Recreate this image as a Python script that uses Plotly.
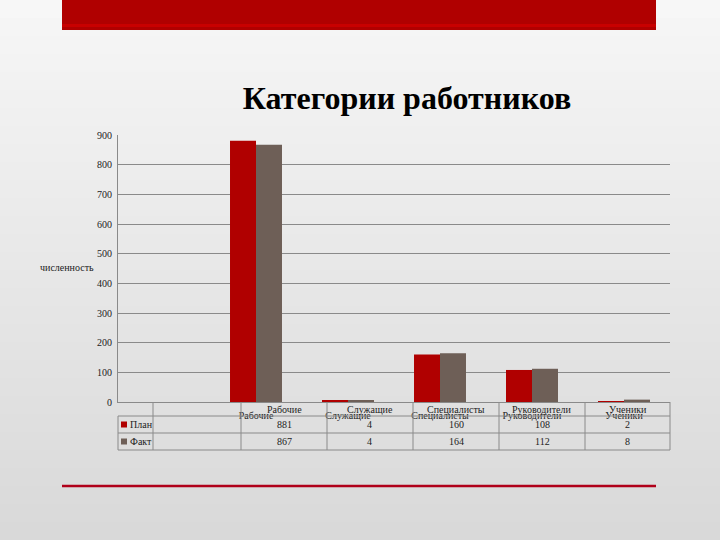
import plotly.graph_objects as go

# данные диаграммы
categories = ["Рабочие", "Служащие", "Специалисты", "Руководители", "Ученики"]
plan = [881, 4, 160, 108, 2]
fact = [867, 4, 164, 112, 8]
series_names = ["План", "Факт"]
y_ticks = [0, 100, 200, 300, 400, 500, 600, 700, 800, 900]

W, H = 720, 540
RED = "#b00000"
GREY = "#6e5f57"
LINE = "#8a8a8a"
FONT = "Liberation Serif"


def px(x):
    return x / W


def py(y):
    return 1 - y / H


fig = go.Figure()
fig.add_trace(go.Bar(x=categories, y=plan, name=series_names[0], marker_color=RED, marker_line_width=0))
fig.add_trace(go.Bar(x=categories, y=fact, name=series_names[1], marker_color=GREY, marker_line_width=0))

shapes = []
annotations = []

# фон: мягкий вертикальный градиент полосами
n_strips = 30
for i in range(n_strips):
    t = i / (n_strips - 1)
    c = int(247 - 30 * t)
    shapes.append(dict(type="rect", xref="paper", yref="paper", layer="below",
                       x0=0, x1=1, y0=1 - (i + 1) / n_strips, y1=1 - i / n_strips,
                       fillcolor=f"rgb({c},{c},{c})", line_width=0))

# красная полоса сверху и линия снизу
shapes.append(dict(type="rect", xref="paper", yref="paper", x0=px(62), x1=px(656),
                   y0=py(30), y1=1, fillcolor=RED, line_width=0))
shapes.append(dict(type="rect", xref="paper", yref="paper", x0=px(62), x1=px(656),
                   y0=py(27), y1=py(24), fillcolor="#c80000", line_width=0))
shapes.append(dict(type="line", xref="paper", yref="paper", x0=px(62), x1=px(656),
                   y0=py(486), y1=py(486), line=dict(color="#b0001a", width=2.5)))

# таблица данных под графиком
col_edges = [118, 153, 241, 327, 413, 499, 585, 670]
row_edges = [402, 416, 433, 450]
for i, x in enumerate(col_edges):
    top = row_edges[1] if i == 0 else row_edges[0]
    shapes.append(dict(type="line", xref="paper", yref="paper", x0=px(x), x1=px(x),
                       y0=py(top), y1=py(row_edges[-1]), line=dict(color=LINE, width=1)))
for y in row_edges[1:]:
    shapes.append(dict(type="line", xref="paper", yref="paper", x0=px(col_edges[0]), x1=px(col_edges[-1]),
                       y0=py(y), y1=py(y), line=dict(color=LINE, width=1)))


def note(x, y, text, size=10, xanchor="center"):
    return dict(x=px(x), y=py(y), xref="paper", yref="paper", text=text, showarrow=False,
                xanchor=xanchor, yanchor="middle", font=dict(family=FONT, size=size, color="#222"))


for j, cat in enumerate(categories):
    cx = (col_edges[j + 2] + col_edges[j + 3]) / 2
    annotations.append(note(cx, 409, cat))
    for r, vals in enumerate([plan, fact]):
        cy = (row_edges[r + 1] + row_edges[r + 2]) / 2
        annotations.append(note(cx, cy, str(vals[j])))

for r, (name, color) in enumerate(zip(series_names, [RED, GREY])):
    cy = (row_edges[r + 1] + row_edges[r + 2]) / 2
    shapes.append(dict(type="rect", xref="paper", yref="paper", x0=px(121), x1=px(127),
                       y0=py(cy + 3), y1=py(cy - 3), fillcolor=color, line_width=0))
    annotations.append(note(128, cy, name, xanchor="left"))

# подпись оси Y (горизонтальная)
annotations.append(note(96, 268, "численность", size=10, xanchor="right"))

fig.update_layout(
    width=W, height=H,
    margin=dict(l=0, r=0, t=0, b=0, autoexpand=False),
    paper_bgcolor="#eeeeee",
    plot_bgcolor="rgba(0,0,0,0)",
    title=dict(text="<b>Категории работников</b>", x=px(407), y=py(98), xanchor="center", yanchor="middle",
               font=dict(family=FONT, size=32, color="#000")),
    barmode="group", bargap=0.435, bargroupgap=0,
    showlegend=False,
    xaxis=dict(domain=[px(118), px(670)], range=[-1.5, 4.5], showgrid=False,
               showline=True, linecolor=LINE, ticks="", ticklabelstandoff=4,
               tickfont=dict(family=FONT, size=10, color="#222")),
    yaxis=dict(domain=[py(402), py(135)], range=[0, 900], tickvals=y_ticks,
               showgrid=True, gridcolor=LINE, gridwidth=1, zeroline=False,
               showline=True, linecolor=LINE, ticks="", ticklabelstandoff=3,
               tickfont=dict(family=FONT, size=10, color="#222")),
    shapes=shapes,
    annotations=annotations,
)

fig.write_html(
    "out.html",
    config={"displayModeBar": False},
    post_script="document.body.style.margin='0';document.body.style.overflow='hidden';"
                "document.documentElement.style.overflow='hidden';",
)
